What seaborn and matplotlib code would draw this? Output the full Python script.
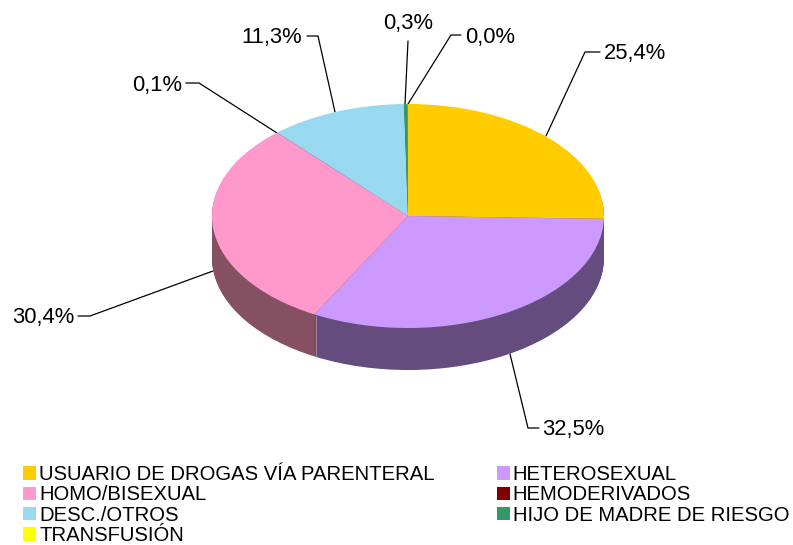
import matplotlib
matplotlib.use("Agg")
import matplotlib.pyplot as plt
import numpy as np
import seaborn as sns

sns.set_theme(style="white")
plt.rcParams["font.family"] = ["Liberation Sans", "DejaVu Sans"]

W, H = 793, 545

categories = [
    "USUARIO DE DROGAS VÍA PARENTERAL",
    "HETEROSEXUAL",
    "HOMO/BISEXUAL",
    "HEMODERIVADOS",
    "DESC./OTROS",
    "HIJO DE MADRE DE RIESGO",
    "TRANSFUSIÓN",
]
values = [25.4, 32.5, 30.4, 0.05, 11.3, 0.3, 0.02]
value_labels = ["25,4%", "32,5%", "30,4%", "0,1%", "11,3%", "0,3%", "0,0%"]
colors = ["#FFCC00", "#CC99FF", "#FF99CC", "#800000", "#99D9F0", "#339966", "#FFFF00"]

palette = sns.color_palette(colors)
side_palette = [tuple(c * 0.5 for c in rgb) for rgb in palette]
# the pink and purple walls are not the plain half shade in the original
side_palette[2] = sns.color_palette(["#845062"])[0]
side_palette[1] = sns.color_palette(["#644C7E"])[0]

# pie ellipse in pixels
CX, CY, RX, RY = 408, 216, 196, 112
DEPTH = 42

fig = plt.figure(figsize=(W / 100, H / 100), dpi=100)
ax = fig.add_axes([(CX - RX) / W, 1 - (CY + RY) / H, 2 * RX / W, 2 * RY / H])

# wall of the disc: stacked copies of the pie, shaded
for d in np.arange(DEPTH, 0, -1):
    ax.pie(
        values,
        colors=side_palette,
        startangle=90,
        counterclock=False,
        radius=1,
        center=(0, -d / RY),
        wedgeprops={"linewidth": 0},
    )
top_wedges, _ = ax.pie(
    values,
    colors=palette,
    startangle=90,
    counterclock=False,
    radius=1,
    wedgeprops={"linewidth": 0},
)
# the maroon sliver does not show on the top face of the original
top_wedges[3].set_facecolor(palette[2])
ax.set_aspect("auto")
ax.set_xlim(-1, 1)
ax.set_ylim(-1, 1)
ax.axis("off")
for p in ax.patches:
    p.set_clip_on(False)

# labels and leader lines, pixel space
over = fig.add_axes([0, 0, 1, 1], facecolor="none", zorder=-1)
over.set_xlim(0, W)
over.set_ylim(H, 0)
over.axis("off")

leaders = [
    ([546, 585, 600], [136, 52, 52], 604, 54, "left"),
    ([510, 528, 539], [354, 428, 428], 542, 430, "left"),
    ([213, 90, 78], [271, 316, 316], 74, 317, "right"),
    ([277, 199, 186], [133, 83, 83], 182, 85, "right"),
    ([335, 318, 307], [112, 36, 36], 302, 37, "right"),
    ([405, 408], [104, 41], 408, 24, "center"),
    ([408, 451, 461], [104, 35, 35], 465, 37, "left"),
]
for (xs, ys, tx, ty, ha), label in zip(leaders, value_labels):
    over.plot(xs, ys, color="black", linewidth=0.9)
    over.text(tx, ty, label, ha=ha, va="center", fontsize=15.8, color="black")

# faint seam on the wall between pink and purple
seam = fig.add_axes([0, 0, 1, 1], facecolor="none", zorder=3)
seam.set_xlim(0, W)
seam.set_ylim(H, 0)
seam.axis("off")
seam.plot([316, 316], [316, 357], color="#B090B0", linewidth=0.6)

# row-wise legend order of the original, legend fills by column
order = [0, 2, 4, 6, 1, 3, 5]
handles = [
    plt.Rectangle((0, 0), 1, 1, facecolor=palette[i], linewidth=0) for i in order
]
fig.legend(
    handles,
    [categories[i] for i in order],
    ncol=2,
    loc="upper left",
    bbox_to_anchor=(23 / W, 1 - 465 / H),
    frameon=False,
    fontsize=14.6,
    borderaxespad=0,
    borderpad=0,
    handlelength=0.65,
    handleheight=0.65,
    handletextpad=0.15,
    labelspacing=0.07,
    columnspacing=3.05,
    labelcolor="black",
)

fig.savefig("out.png", dpi=100, facecolor="white")
